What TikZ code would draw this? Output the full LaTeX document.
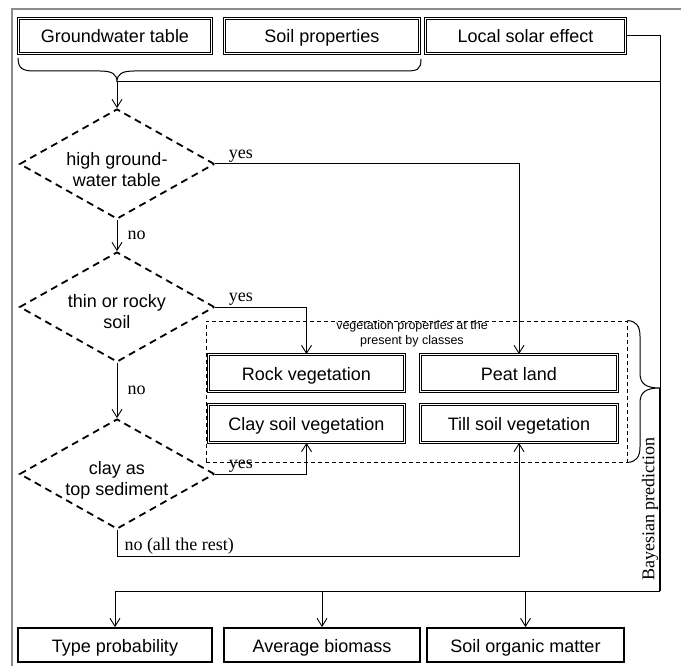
\documentclass[tikz,border=0pt]{standalone}
\usepackage{fontspec}
\setmainfont{Liberation Serif}
\newfontfamily\sansf{Liberation Sans}
\usetikzlibrary{shapes.geometric,arrows.meta}
\begin{document}
\begin{tikzpicture}[x=1pt,y=-1pt,
  every node/.style={inner sep=0pt},
  boxfont/.style={font=\sansf\fontsize{18}{21}\selectfont},
  boxtext/.style={boxfont, text height=15pt, text depth=1pt},
  dbox/.style={boxtext, draw, line width=0.8pt, double=white, double distance=1.4pt},
  sbox/.style={boxtext, draw, line width=1.8pt, minimum height=34pt},
  decision/.style={diamond, draw, line width=1.8pt, dash pattern=on 7pt off 5pt,
                   minimum width=195pt, minimum height=110pt, shape aspect=1.7},
  dtext/.style={boxfont, align=center},
  link/.style={line width=1pt},
  arr/.style={link, -{Straight Barb[length=8pt,width=10pt,line width=0.9pt]}},
  lbl/.style={font=\fontsize{18}{20}\selectfont},
  grouplbl/.style={font=\sansf\fontsize{12.5}{15}\selectfont, align=center},
]
\useasboundingbox (0,0) rectangle (681,666);

% canvas frame
\draw[gray!90, line width=2pt] (12,666) -- (12,9) -- (681,9);

% input boxes
\node[dbox, minimum width=193pt, minimum height=35pt] (gw)    at (115,36)   {Groundwater table};
\node[dbox, minimum width=195pt, minimum height=35pt] (soil)  at (322,36)   {Soil properties};
\node[dbox, minimum width=200pt, minimum height=35pt] (solar) at (525.5,36) {Local solar effect};

% brace under the first two inputs
\coordinate (tip) at (117,82);
\draw[link] (gw.south west) ++(0,4)
  .. controls ++(0,10) and (22,71) .. (34,71) -- (100,71)
  .. controls (112,71) and (117,74) .. (tip)
  .. controls (117,74) and (122,71) .. (134,71) -- (405,71)
  .. controls (417,71) and (421,70) .. (421,59);

% decisions
\node[decision] (d1) at (117,164) {};
\node[dtext] at (117,170) {high ground-\\water table};
\node[decision] (d2) at (117,307) {};
\node[dtext] at (117,312) {thin or rocky\\soil};
\node[decision] (d3) at (117,474) {};
\node[dtext] at (117,480) {clay as\\top sediment};

% vegetation classes
\node[draw, line width=0.9pt, dash pattern=on 4pt off 3pt,
      minimum width=421pt, minimum height=141pt] (grp) at (416.5,391.5) {};
\node[grouplbl, anchor=north] at (412,320.5) {vegetation properties at the\\present by classes};
\node[dbox, minimum width=196pt, minimum height=37pt] (rock) at (306.5,373)   {Rock vegetation};
\node[dbox, minimum width=197pt, minimum height=37pt] (peat) at (519,373)     {Peat land};
\node[dbox, minimum width=196pt, minimum height=38pt] (clay) at (306.5,423.5) {Clay soil vegetation};
\node[dbox, minimum width=197pt, minimum height=38pt] (till) at (519,423.5)   {Till soil vegetation};

% outputs
\node[sbox, minimum width=194pt] (tp)  at (115,645)   {Type probability};
\node[sbox, minimum width=196pt] (ab)  at (322,645)   {Average biomass};
\node[sbox, minimum width=197pt] (som) at (525.5,645) {Soil organic matter};

% decision flow
\draw[arr] (tip) -- (d1.north);
\draw[arr] (d1.south) -- node[lbl, right, xshift=10pt] {no} (d2.north);
\draw[arr] (d2.south) -- node[lbl, right, xshift=10pt] {no} (d3.north);

\draw[arr] (d1.east) -- node[lbl, pos=0, anchor=south west, xshift=13pt, yshift=1pt] {yes}
  (d1.east -| peat.north) -- (peat.north);
\draw[arr] (d2.east) -- node[lbl, pos=0, anchor=south west, xshift=13pt, yshift=1pt] {yes}
  (d2.east -| rock.north) -- (rock.north);
\draw[arr] (d3.east) -- node[lbl, pos=0, anchor=south west, xshift=13pt, yshift=1pt] {yes}
  (d3.east -| clay.south) -- (clay.south);
\draw[arr] (d3.south) -- ++(0,27) coordinate (rest)
  node[lbl, anchor=south west, xshift=7pt, yshift=2pt] {no (all the rest)}
  -- (rest -| till.south) -- (till.south);

% Bayesian prediction
\coordinate (bay) at (660,388);
\coordinate (corner) at (660,591);
\draw[link] (grp.north east) .. controls (636,321) and (640,326) .. (640,336) -- (640,373)
  .. controls (640,384) and (646,388) .. (bay)
  .. controls (646,388) and (640,392) .. (640,403) -- (640,447)
  .. controls (640,457) and (636,462) .. (grp.south east);
\draw[link] (solar.east) -- (solar.east -| bay) -- (bay);
\draw[link] (tip) -- (tip -| bay);
\draw[line width=1.5pt] (bay) -- (corner);
\draw[link] (corner) -- (corner -| tp.north);
\node[lbl, rotate=90] (bp) at (650,509) {Bayesian prediction};
\foreach \n in {tp,ab,som} \draw[arr] (\n.north |- corner) -- (\n.north);
\end{tikzpicture}
\end{document}
